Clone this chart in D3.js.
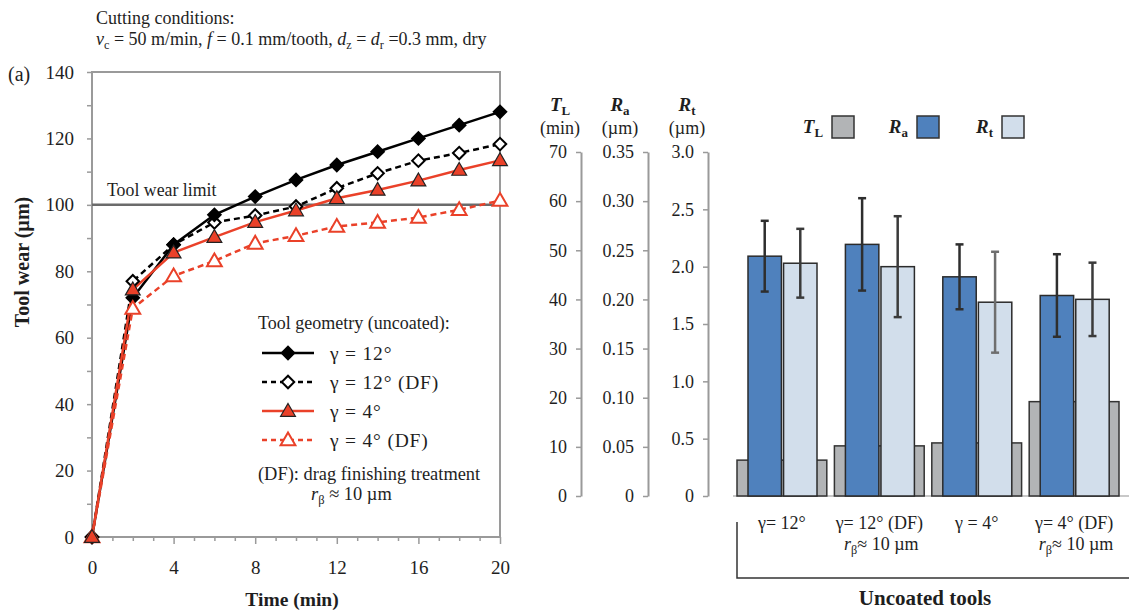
<!DOCTYPE html>
<html><head><meta charset="utf-8">
<script src="https://cdn.jsdelivr.net/npm/d3@7"></script>
<style>
html,body{margin:0;padding:0;background:#fff;}
svg text{font-family:"Liberation Serif","Times New Roman",serif;fill:#1e1e1e;}
</style></head>
<body>
<svg id="chart" width="1129" height="610"></svg>
<script>
// ---------- Data ----------
const times = [0,2,4,6,8,10,12,14,16,18,20];
const wear12   = [0,72,88,97,102.5,107.5,112,116,120,124,128];
const wear12DF = [0,77,88,94.7,96.8,99.5,105,109.5,113.3,115.6,118.3];
const wear4    = [0,74.5,85.6,90.3,94.8,98.3,102,104.5,107.3,110.5,113.4];
const wear4DF  = [0,68.8,78.6,83.1,88.4,90.7,93.5,94.7,96.2,98.5,101.3];
const wearLimit = 100;
const xTicks = [0,4,8,12,16,20];
const yTicks = [0,20,40,60,80,100,120,140];

const groups = ["γ= 12°","γ= 12° (DF)","γ = 4°","γ= 4° (DF)"];
const groupHasRb = [false,true,false,true];
const TL    = [7.3,10.2,10.8,19.2];
const Ra    = [0.244,0.256,0.223,0.204];
const RaErr = [0.036,0.047,0.033,0.042];
const Rt    = [2.03,2.0,1.69,1.715];
const RtErr = [0.30,0.44,0.44,0.32];
const tlTicks = [0,10,20,30,40,50,60,70];
const raTicks = [0,0.05,0.10,0.15,0.20,0.25,0.30,0.35];
const rtTicks = [0,0.5,1.0,1.5,2.0,2.5,3.0];

const svg = d3.select("#chart");
const RED = "#ea4129";

// rich text helper
function rich(sel, parts){
  parts.forEach(p=>{
    const t = sel.append("tspan").text(p.t);
    if(p.i) t.attr("font-style","italic");
    if(p.b) t.attr("font-weight","bold");
    if(p.sub){ t.attr("dy",4).attr("font-size","0.68em"); }
    if(p.after) t.attr("dy",-4);
  });
  return sel;
}

// ---------- Header ----------
svg.append("text").attr("x",96).attr("y",24).attr("font-size",18).text("Cutting conditions:");
rich(svg.append("text").attr("x",96).attr("y",45).attr("font-size",18),[
  {t:"v",i:true},{t:"c",sub:true},{t:" = 50 m/min, ",after:true},{t:"f",i:true},
  {t:" = 0.1 mm/tooth, "},{t:"d",i:true},{t:"z",sub:true},{t:" = ",after:true},
  {t:"d",i:true},{t:"r",sub:true},{t:" =0.3 mm, dry",after:true}
]);
svg.append("text").attr("x",8).attr("y",81).attr("font-size",20).text("(a)");

// ---------- Left chart ----------
const x = d3.scaleLinear().domain([0,20]).range([92,500]);
const y = d3.scaleLinear().domain([0,140]).range([537,72]);

svg.append("rect").attr("x",x(0)).attr("y",y(140)).attr("width",x(20)-x(0)).attr("height",y(0)-y(140))
  .attr("fill","none").attr("stroke","#9a9a9a").attr("stroke-width",2);

// y axis
const gy = svg.append("g").attr("transform",`translate(${x(0)},0)`)
  .call(d3.axisLeft(y).tickValues(d3.range(0,141,10)).tickSize(5).tickFormat(d=>yTicks.includes(d)?d:""));
gy.select(".domain").remove();
gy.selectAll("line").attr("stroke","#9a9a9a").attr("stroke-width",1.5);
gy.selectAll("text").attr("font-size",19).attr("x",-18).attr("fill","#1e1e1e");

// x axis
const gx = svg.append("g").attr("transform",`translate(0,${y(0)})`)
  .call(d3.axisBottom(x).tickValues(d3.range(0,21,1)).tickSize(4).tickFormat(d=>xTicks.includes(d)?d:""));
gx.select(".domain").remove();
gx.selectAll(".tick").filter(d=>xTicks.includes(d)).select("line").attr("y2",7);
gx.selectAll("line").attr("stroke","#9a9a9a").attr("stroke-width",1.5);
gx.selectAll("text").attr("font-size",19).attr("y",24).attr("fill","#1e1e1e");

svg.append("text").attr("x",292).attr("y",606).attr("text-anchor","middle")
  .attr("font-size",19.5).attr("font-weight","bold").text("Time (min)");
svg.append("text").attr("transform","translate(29,262) rotate(-90)").attr("text-anchor","middle")
  .attr("font-size",20).attr("font-weight","bold").text("Tool wear (µm)");

// wear limit
svg.append("line").attr("x1",x(0)).attr("x2",x(20)).attr("y1",y(wearLimit)).attr("y2",y(wearLimit))
  .attr("stroke","#6b6b6b").attr("stroke-width",2.5);
svg.append("text").attr("x",107).attr("y",196).attr("font-size",17.8).text("Tool wear limit");

const series = [
  {v:wear12DF,color:"#000",dash:"6,4",shape:"diamond",fill:"#fff"},
  {v:wear12,color:"#000",dash:null,shape:"diamond",fill:"#000"},
  {v:wear4DF,color:RED,dash:"6,4",shape:"triangle",fill:"#fff"},
  {v:wear4,color:RED,dash:null,shape:"triangle",fill:RED,mstroke:"#222"},
];
const line = d3.line().x((d,i)=>x(times[i])).y(d=>y(d));
const diamondPath = d3.symbol().type(d3.symbolSquare).size(78)();
const triPath = d3.symbol().type(d3.symbolTriangle).size(95)();

function marker(g, s, cx, cy){
  if(s.shape==="diamond"){
    g.append("path").attr("d",diamondPath).attr("transform",`translate(${cx},${cy}) rotate(45)`)
      .attr("fill",s.fill).attr("stroke",s.color).attr("stroke-width",2);
  } else {
    g.append("path").attr("d",triPath).attr("transform",`translate(${cx},${cy+1})`)
      .attr("fill",s.fill).attr("stroke",s.mstroke||s.color).attr("stroke-width",s.mstroke?1.2:2);
  }
}
series.forEach(s=>{
  svg.append("path").datum(s.v).attr("d",line).attr("fill","none").attr("stroke",s.color)
    .attr("stroke-width",2.5).attr("stroke-dasharray",s.dash);
});
series.forEach(s=>{
  const g = svg.append("g");
  s.v.forEach((d,i)=>marker(g,s,x(times[i]),y(d)));
});

// legend
svg.append("text").attr("x",258).attr("y",329).attr("font-size",18).text("Tool geometry (uncoated):");
const legItems = [
  {s:series[1],label:"γ = 12°",yy:353},
  {s:series[0],label:"γ = 12° (DF)",yy:382},
  {s:series[3],label:"γ = 4°",yy:411},
  {s:series[2],label:"γ = 4° (DF)",yy:440},
];
legItems.forEach(it=>{
  const g = svg.append("g");
  g.append("line").attr("x1",262).attr("x2",314).attr("y1",it.yy).attr("y2",it.yy)
    .attr("stroke",it.s.color).attr("stroke-width",2.5).attr("stroke-dasharray",it.s.dash?"5,4":null);
  marker(g,it.s,288,it.yy);
  g.append("text").attr("x",330).attr("y",it.yy+7).attr("font-size",19.5).attr("letter-spacing",0.8).text(it.label);
});
svg.append("text").attr("x",258).attr("y",480).attr("font-size",18.4).text("(DF): drag finishing treatment");
rich(svg.append("text").attr("x",311).attr("y",500).attr("font-size",18.4),[
  {t:"r",i:true},{t:"β",sub:true},{t:" ≈ 10 µm",after:true}]);

// ---------- Middle axes ----------
const yTL = d3.scaleLinear().domain([0,70]).range([496,152]);
const yRa = d3.scaleLinear().domain([0,0.35]).range([496,152]);
const yRt = d3.scaleLinear().domain([0,3.0]).range([496,152]);
function midAxis(scale, xpos, ticks, fmt){
  const g = svg.append("g").attr("transform",`translate(${xpos},0)`)
    .call(d3.axisLeft(scale).tickValues(ticks).tickSize(5).tickSizeOuter(0).tickFormat(fmt));
  g.select(".domain").attr("stroke","#9a9a9a").attr("stroke-width",2);
  g.selectAll("line").attr("stroke","#9a9a9a").attr("stroke-width",1.5);
  g.selectAll("text").attr("font-size",18).attr("x",-14).attr("fill","#1e1e1e");
}
midAxis(yTL,581,tlTicks,d=>d);
midAxis(yRa,648,raTicks,d=>d===0?"0":d3.format(".2f")(d));
midAxis(yRt,708,rtTicks,d=>d===0?"0":d3.format(".1f")(d));

function header(cx, main, sub, unit){
  rich(svg.append("text").attr("x",cx).attr("y",111).attr("text-anchor","middle").attr("font-size",19),
    [{t:main,b:true,i:true},{t:sub,b:true,sub:true}]);
  svg.append("text").attr("x",cx).attr("y",134).attr("text-anchor","middle").attr("font-size",18).text(unit);
}
header(560,"T","L","(min)");
header(620,"R","a","(µm)");
header(687,"R","t","(µm)");

// ---------- Right bars ----------
const xg = d3.scaleBand().domain(groups).range([737,1119]).paddingInner(0.078).paddingOuter(0);
const xs = d3.scaleBand().domain(["Ra","Rt"]).range([11,80]).paddingInner(0.06);
const GRAY="#b2b4b6", BLUE="#4f81bd", LIGHT="#d2deeb";

svg.append("line").attr("x1",733).attr("x2",1129).attr("y1",496).attr("y2",496)
  .attr("stroke","#c8c8c8").attr("stroke-width",2);

groups.forEach((gname,i)=>{
  const gx0 = xg(gname);
  svg.append("rect").attr("x",gx0).attr("y",yTL(TL[i])).attr("width",xg.bandwidth()).attr("height",yTL(0)-yTL(TL[i]))
    .attr("fill",GRAY).attr("stroke","#333").attr("stroke-width",1.5);
  svg.append("rect").attr("x",gx0+xs("Ra")).attr("y",yRa(Ra[i])).attr("width",xs.bandwidth()).attr("height",yRa(0)-yRa(Ra[i]))
    .attr("fill",BLUE).attr("stroke","#2b2b2b").attr("stroke-width",1.5);
  svg.append("rect").attr("x",gx0+xs("Rt")).attr("y",yRt(Rt[i])).attr("width",xs.bandwidth()).attr("height",yRt(0)-yRt(Rt[i]))
    .attr("fill",LIGHT).attr("stroke","#2b2b2b").attr("stroke-width",1.5);
  // error bars
  const eb = [
    {cx:gx0+xs("Ra")+xs.bandwidth()/2, lo:yRa(Ra[i]-RaErr[i]), hi:yRa(Ra[i]+RaErr[i]), c:"#2e2e2e"},
    {cx:gx0+xs("Rt")+xs.bandwidth()/2, lo:yRt(Rt[i]-RtErr[i]), hi:yRt(Rt[i]+RtErr[i]), c: i===2?"#6e6e6e":"#3a3a3a"},
  ];
  eb.forEach(e=>{
    svg.append("line").attr("x1",e.cx).attr("x2",e.cx).attr("y1",e.lo).attr("y2",e.hi).attr("stroke",e.c).attr("stroke-width",2.5);
    [e.lo,e.hi].forEach(yy=>svg.append("line").attr("x1",e.cx-4).attr("x2",e.cx+4).attr("y1",yy).attr("y2",yy)
      .attr("stroke",e.c).attr("stroke-width",2.5));
  });
  // labels
  const cx = gx0 + xg.bandwidth()/2;
  svg.append("text").attr("x",cx).attr("y",529).attr("text-anchor","middle").attr("font-size",18).text(gname);
  if(groupHasRb[i]){
    rich(svg.append("text").attr("x",cx+2).attr("y",550).attr("text-anchor","middle").attr("font-size",18),
      [{t:"r",i:true},{t:"β",sub:true},{t:"≈ 10 µm",after:true}]);
  }
});

// bracket
svg.append("path").attr("d","M737,522 V578 H1129").attr("fill","none").attr("stroke","#333").attr("stroke-width",1.5);
svg.append("text").attr("x",925).attr("y",605).attr("text-anchor","middle").attr("font-size",21)
  .attr("font-weight","bold").text("Uncoated tools");

// right legend
const leg = [
  {m:"T",s:"L",fill:GRAY,lx:823,bx:832},
  {m:"R",s:"a",fill:BLUE,lx:908,bx:917},
  {m:"R",s:"t",fill:LIGHT,lx:993,bx:1002},
];
leg.forEach(l=>{
  rich(svg.append("text").attr("x",l.lx).attr("y",133).attr("text-anchor","end").attr("font-size",19),
    [{t:l.m,b:true,i:true},{t:l.s,b:true,sub:true}]);
  svg.append("rect").attr("x",l.bx).attr("y",116).attr("width",22).attr("height",22)
    .attr("fill",l.fill).attr("stroke","#333").attr("stroke-width",1.5);
});
</script>
</body></html>
